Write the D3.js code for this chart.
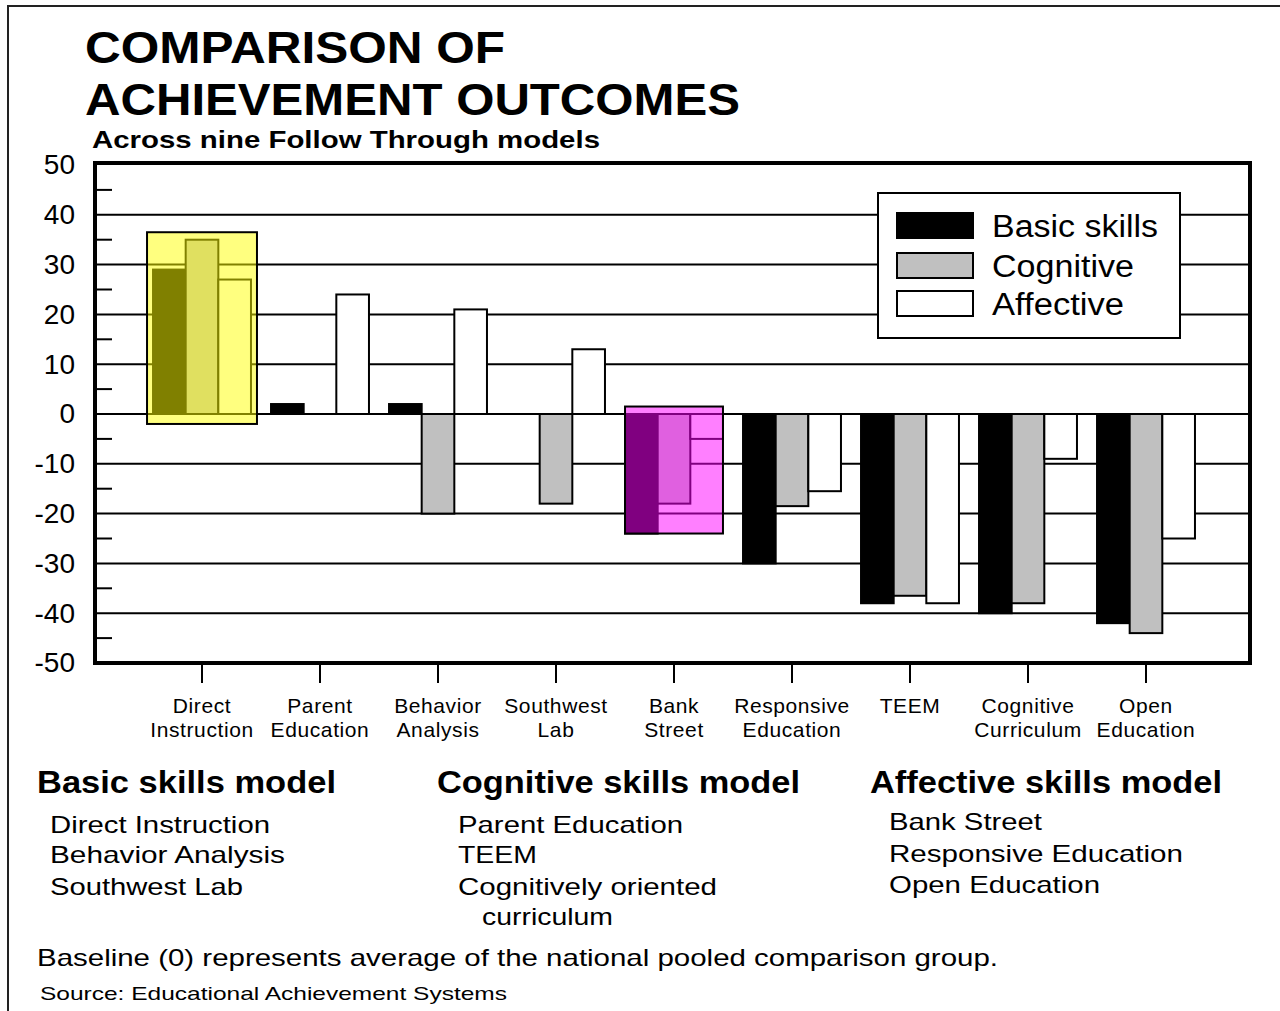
<!DOCTYPE html>
<html>
<head>
<meta charset="utf-8">
<script src="https://cdnjs.cloudflare.com/ajax/libs/d3/7.8.5/d3.min.js"></script>
<style>
	body { margin: 0; background: #fff; }
	svg { display: block; font-family: "Liberation Sans", Arial, sans-serif; }
	.axis path { display: none; }
	.axis line { stroke: #000; stroke-width: 2; }
	.axis text { fill: #000; }
</style>
</head>
<body>
<svg width="1280" height="1011"></svg>
<script>
// chart data
const categories = ["Direct Instruction", "Parent Education", "Behavior Analysis", "Southwest Lab",
	"Bank Street", "Responsive Education", "TEEM", "Cognitive Curriculum", "Open Education"];
const categoryLines = [["Direct", "Instruction"], ["Parent", "Education"], ["Behavior", "Analysis"],
	["Southwest", "Lab"], ["Bank", "Street"], ["Responsive", "Education"], ["TEEM"],
	["Cognitive", "Curriculum"], ["Open", "Education"]];
const seriesNames = ["Basic skills", "Cognitive", "Affective"];
const basic = [29, 2, 2, 0, -24, -30, -38, -40, -42];
const cognitive = [35, 0, -20, -18, -18, -18.5, -36.5, -38, -44];
const affective = [27, 24, 21, 13, -5, -15.5, -38, -9, -25];
const yTicks = [50, 40, 30, 20, 10, 0, -10, -20, -30, -40, -50];
const minorTicks = [45, 35, 25, 15, 5, -5, -15, -25, -35, -45];

const title1 = "COMPARISON OF";
const title2 = "ACHIEVEMENT OUTCOMES";
const subtitle = "Across nine Follow Through models";
const groupHeads = ["Basic skills model", "Cognitive skills model", "Affective skills model"];
const basicModels = ["Direct Instruction", "Behavior Analysis", "Southwest Lab"];
const cognitiveModels = ["Parent Education", "TEEM", "Cognitively oriented", "curriculum"];
const affectiveModels = ["Bank Street", "Responsive Education", "Open Education"];
const note = "Baseline (0) represents average of the national pooled comparison group.";
const source = "Source: Educational Achievement Systems";

const svg = d3.select("svg");
const fills = ["#000000", "#c0c0c0", "#ffffff"];
const series = [basic, cognitive, affective];

// plot frame
const frame = {left: 95, right: 1250, top: 163, bottom: 663};

// scales
const y = d3.scaleLinear().domain([-50, 50]).range([663, 165]);
const x = d3.scaleBand().domain(categories).range([143, 1205]).paddingInner(0.17).paddingOuter(0.085);
const xs = d3.scaleBand().domain(seriesNames).range([0, x.bandwidth()]);

// outer border
svg.append("path").attr("d", "M8,1011V6H1280").attr("fill", "none").attr("stroke", "#222").attr("stroke-width", 2);

// titles
function txt(s, xx, yy, size, weight, len) {
	const t = svg.append("text").attr("x", xx).attr("y", yy)
		.style("font-size", size + "px").style("font-weight", weight).text(s);
	if (len) t.attr("textLength", len).attr("lengthAdjust", "spacingAndGlyphs");
	return t;
}
txt(title1, 85, 63, 45, "bold", 420);
txt(title2, 85, 115, 45, "bold", 655);
txt(subtitle, 92, 148, 24, "bold", 508);

// gridlines
const g = svg.append("g");
g.selectAll(".grid").data(yTicks.filter(d => d > -50 && d < 50)).enter().append("line")
	.attr("x1", frame.left).attr("x2", frame.right)
	.attr("y1", d => y(d)).attr("y2", d => y(d))
	.attr("stroke", "#000").attr("stroke-width", 2);
g.selectAll(".minor").data(minorTicks).enter().append("line")
	.attr("x1", frame.left).attr("x2", frame.left + 17)
	.attr("y1", d => y(d)).attr("y2", d => y(d))
	.attr("stroke", "#000").attr("stroke-width", 2);

// bars
seriesNames.forEach(function(name, si) {
	g.selectAll(".bar" + si).data(categories).enter().append("rect")
		.attr("x", (c) => x(c) + xs(name))
		.attr("width", xs.bandwidth())
		.attr("y", (c, i) => y(Math.max(0, series[si][i])))
		.attr("height", (c, i) => Math.abs(y(series[si][i]) - y(0)))
		.attr("fill", fills[si])
		.attr("stroke", "#000").attr("stroke-width", 2);
});

// highlight boxes
svg.append("rect")
	.attr("x", x("Direct Instruction") - 6).attr("width", x.bandwidth() + 12)
	.attr("y", y(36.5)).attr("height", y(-2) - y(36.5))
	.attr("fill", "rgba(255,255,0,0.5)").attr("stroke", "#000").attr("stroke-width", 2);
svg.append("rect")
	.attr("x", x("Bank Street")).attr("width", x.bandwidth())
	.attr("y", y(1.5)).attr("height", y(-24) - y(1.5))
	.attr("fill", "rgba(255,0,255,0.5)").attr("stroke", "#000").attr("stroke-width", 2);

// frame border
svg.append("rect")
	.attr("x", frame.left).attr("y", frame.top)
	.attr("width", frame.right - frame.left).attr("height", frame.bottom - frame.top)
	.attr("fill", "none").attr("stroke", "#000").attr("stroke-width", 4);

// y axis labels (plain hyphen minus like the original)
svg.append("g").attr("class", "axis")
	.attr("transform", "translate(" + frame.left + ",0)")
	.call(d3.axisLeft(y).tickValues(yTicks).tickSize(0).tickPadding(20).tickFormat(d => String(d)))
	.selectAll("text").style("font-size", "28px");

// x axis ticks + labels
const xa = svg.append("g").attr("class", "axis")
	.attr("transform", "translate(0," + frame.bottom + ")")
	.call(d3.axisBottom(x).tickSize(20).tickFormat(""));
xa.selectAll(".tick").each(function(d, i) {
	const t = d3.select(this).append("text").attr("text-anchor", "middle")
		.style("font-size", "21px").style("letter-spacing", "0.6px");
	categoryLines[i].forEach(function(line, li) {
		t.append("tspan").attr("x", 0).attr("y", 50 + li * 24).text(line);
	});
});

// legend
const lg = svg.append("g").attr("transform", "translate(878,193)");
lg.append("rect").attr("width", 302).attr("height", 145)
	.attr("fill", "#fff").attr("stroke", "#000").attr("stroke-width", 2);
const swY = [20, 60, 98];
seriesNames.forEach(function(name, i) {
	lg.append("rect").attr("x", 19).attr("y", swY[i]).attr("width", 76).attr("height", 25)
		.attr("fill", fills[i]).attr("stroke", "#000").attr("stroke-width", 2);
	lg.append("text").attr("x", 114).attr("y", swY[i] + 24)
		.style("font-size", "31px").text(name)
		.attr("textLength", [166, 142, 132][i]).attr("lengthAdjust", "spacingAndGlyphs");
});

// model groupings
txt(groupHeads[0], 37, 793, 31, "bold", 299);
txt(groupHeads[1], 437, 793, 31, "bold", 363);
txt(groupHeads[2], 870, 793, 31, "bold", 352);

const basicLens = [220, 235, 193];
basicModels.forEach((s, i) => txt(s, 50, [833, 863, 895][i], 24, "normal", basicLens[i]));
const cogLens = [225, 79, 259, 131];
cognitiveModels.forEach((s, i) => txt(s, i === 3 ? 482 : 458, [833, 863, 895, 925][i], 24, "normal", cogLens[i]));
const affLens = [153, 294, 211];
affectiveModels.forEach((s, i) => txt(s, 889, [830, 862, 893][i], 24, "normal", affLens[i]));

txt(note, 37, 966, 24, "normal", 961);
txt(source, 40, 1000, 19, "normal", 467);
</script>
</body>
</html>
